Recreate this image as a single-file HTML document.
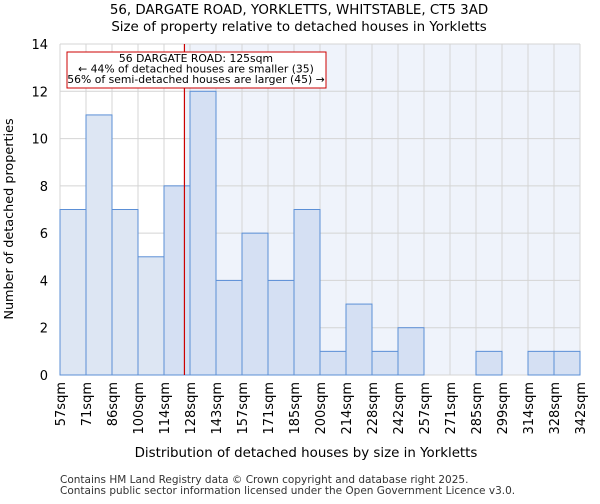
<!DOCTYPE html>
<html><head><meta charset="utf-8"><style>
body{margin:0;background:#fff;font-family:"DejaVu Sans","Liberation Sans",sans-serif;}
</style></head><body>
<svg id="c" width="600" height="500" xmlns="http://www.w3.org/2000/svg" font-family="DejaVu Sans, Liberation Sans, sans-serif">
<text x="299" y="14" text-anchor="middle" font-size="13.4">56, DARGATE ROAD, YORKLETTS, WHITSTABLE, CT5 3AD</text>
<text x="299" y="31" text-anchor="middle" font-size="13.4">Size of property relative to detached houses in Yorkletts</text>
<g id="plot"></g>
<text x="306" y="457" text-anchor="middle" font-size="13.4">Distribution of detached houses by size in Yorkletts</text>
<text transform="translate(13,219) rotate(-90)" text-anchor="middle" font-size="12.8">Number of detached properties</text>
<text x="60" y="483" font-size="10.5" fill="#333">Contains HM Land Registry data © Crown copyright and database right 2025.</text>
<text x="60" y="494" font-size="10.5" fill="#333">Contains public sector information licensed under the Open Government Licence v3.0.</text>
</svg>
<script>
const binLabels=["57sqm","71sqm","86sqm","100sqm","114sqm","128sqm","143sqm","157sqm","171sqm","185sqm","200sqm","214sqm","228sqm","242sqm","257sqm","271sqm","285sqm","299sqm","314sqm","328sqm","342sqm"];
const binEdges=[57,71,86,100,114,128,143,157,171,185,200,214,228,242,257,271,285,299,314,328,342];
const counts=[7,11,7,5,8,12,4,6,4,7,1,3,1,2,0,0,1,0,1,1];
const yTicks=[0,2,4,6,8,10,12,14];
const propertySize=125;
const NS="http://www.w3.org/2000/svg";
const x0=60,x1=580,y0=375,y1=44,yMax=14;
const bw=(x1-x0)/counts.length;
const xi=i=>x0+i*bw;
function xv(v){for(let i=0;i<binEdges.length-1;i++){if(v<=binEdges[i+1])return xi(i)+bw*(v-binEdges[i])/(binEdges[i+1]-binEdges[i]);}return x1;}
const y=v=>y0-(y0-y1)*v/yMax;
const g=document.getElementById('plot');
function el(t,a){const e=document.createElementNS(NS,t);for(const k in a)e.setAttribute(k,a[k]);g.appendChild(e);return e;}
const rx=xv(propertySize);
let e=el('rect',{x:rx,y:y1,width:x1-rx,height:y0-y1,fill:'#eff3fb'});


for(let i=0;i<=counts.length;i++){e=el('line',{x1:xi(i),x2:xi(i),y1:y1,y2:y0,stroke:'#d4d4d4','stroke-width':1});

}
yTicks.forEach(t=>{e=el('line',{x1:x0,x2:x1,y1:y(t),y2:y(t),stroke:'#d4d4d4','stroke-width':1});


e=el('text',{x:x0-12,y:y(t)+5,'text-anchor':'end','font-size':13});e.textContent=t;

});
counts.forEach((c,i)=>{if(!c)return;const left=xi(i+1)<=rx;
e=el('rect',{x:xi(i),y:y(c),width:bw,height:y0-y(c),fill:left?'#dde6f3':'#d5e0f3',stroke:'#5b8fd6','stroke-width':1});

});
binLabels.forEach((l,i)=>{e=el('text',{transform:`translate(${xi(i)+5},382) rotate(-90)`,'text-anchor':'end','font-size':13});e.textContent=l;

});
e=el('line',{x1:rx,x2:rx,y1:y1,y2:y0,stroke:'#cc0000','stroke-width':1.2});


e=el('rect',{x:67,y:52,width:259,height:36,fill:'#fff',stroke:'#cc0000','stroke-width':1});


["56 DARGATE ROAD: 125sqm","← 44% of detached houses are smaller (35)","56% of semi-detached houses are larger (45) →"].forEach((s,i)=>{
e=el('text',{x:196,y:62+i*10.5,'text-anchor':'middle','font-size':10.8});e.textContent=s;

});
</script>
</body></html>
